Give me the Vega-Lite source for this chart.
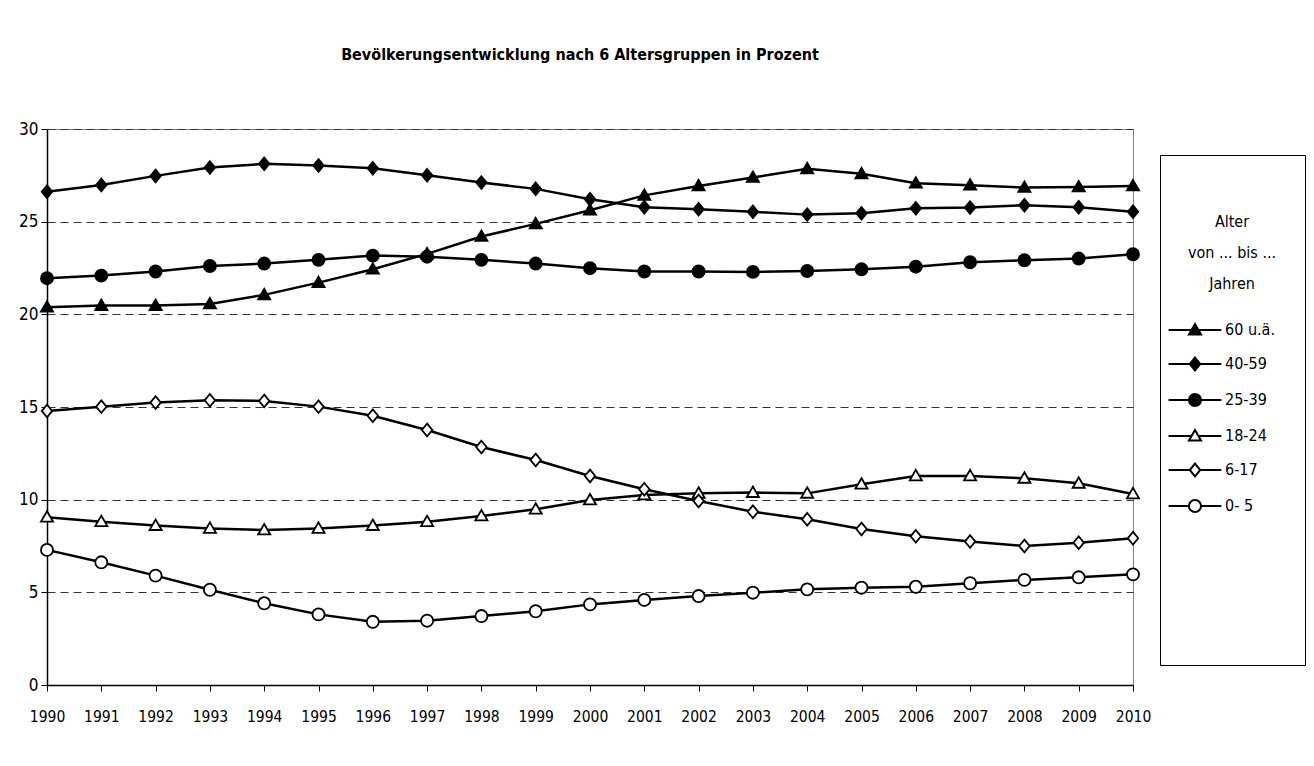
{
  "$schema": "https://vega.github.io/schema/vega-lite/v6.json",
  "width": 1086,
  "height": 556,
  "autosize": {"type": "none"},
  "padding": {"left": 47, "top": 129, "right": 181, "bottom": 81},
  "background": "white",
  "title": {
    "text": "Bevölkerungsentwicklung nach 6 Altersgruppen in Prozent",
    "anchor": "middle",
    "frame": "group",
    "dx": -10,
    "offset": 57,
    "font": "DejaVu Sans Condensed, Liberation Sans, sans-serif",
    "fontSize": 16,
    "fontWeight": "bold",
    "color": "black"
  },
  "config": {
    "font": "DejaVu Sans Condensed, Liberation Sans, sans-serif",
    "view": {"stroke": "#808080", "strokeWidth": 1}
  },
  "data": {
    "values": [
      {"Jahr":"1990","Gruppe":"60 u.ä.","Wert":20.38},{"Jahr":"1991","Gruppe":"60 u.ä.","Wert":20.47},{"Jahr":"1992","Gruppe":"60 u.ä.","Wert":20.47},{"Jahr":"1993","Gruppe":"60 u.ä.","Wert":20.56},{"Jahr":"1994","Gruppe":"60 u.ä.","Wert":21.05},{"Jahr":"1995","Gruppe":"60 u.ä.","Wert":21.71},{"Jahr":"1996","Gruppe":"60 u.ä.","Wert":22.43},{"Jahr":"1997","Gruppe":"60 u.ä.","Wert":23.26},{"Jahr":"1998","Gruppe":"60 u.ä.","Wert":24.2},{"Jahr":"1999","Gruppe":"60 u.ä.","Wert":24.88},{"Jahr":"2000","Gruppe":"60 u.ä.","Wert":25.62},{"Jahr":"2001","Gruppe":"60 u.ä.","Wert":26.42},{"Jahr":"2002","Gruppe":"60 u.ä.","Wert":26.93},{"Jahr":"2003","Gruppe":"60 u.ä.","Wert":27.38},{"Jahr":"2004","Gruppe":"60 u.ä.","Wert":27.85},{"Jahr":"2005","Gruppe":"60 u.ä.","Wert":27.58},{"Jahr":"2006","Gruppe":"60 u.ä.","Wert":27.07},{"Jahr":"2007","Gruppe":"60 u.ä.","Wert":26.97},{"Jahr":"2008","Gruppe":"60 u.ä.","Wert":26.84},{"Jahr":"2009","Gruppe":"60 u.ä.","Wert":26.87},{"Jahr":"2010","Gruppe":"60 u.ä.","Wert":26.93},
      {"Jahr":"1990","Gruppe":"40-59","Wert":26.62},{"Jahr":"1991","Gruppe":"40-59","Wert":26.98},{"Jahr":"1992","Gruppe":"40-59","Wert":27.47},{"Jahr":"1993","Gruppe":"40-59","Wert":27.92},{"Jahr":"1994","Gruppe":"40-59","Wert":28.12},{"Jahr":"1995","Gruppe":"40-59","Wert":28.03},{"Jahr":"1996","Gruppe":"40-59","Wert":27.88},{"Jahr":"1997","Gruppe":"40-59","Wert":27.5},{"Jahr":"1998","Gruppe":"40-59","Wert":27.11},{"Jahr":"1999","Gruppe":"40-59","Wert":26.77},{"Jahr":"2000","Gruppe":"40-59","Wert":26.21},{"Jahr":"2001","Gruppe":"40-59","Wert":25.78},{"Jahr":"2002","Gruppe":"40-59","Wert":25.67},{"Jahr":"2003","Gruppe":"40-59","Wert":25.53},{"Jahr":"2004","Gruppe":"40-59","Wert":25.38},{"Jahr":"2005","Gruppe":"40-59","Wert":25.45},{"Jahr":"2006","Gruppe":"40-59","Wert":25.72},{"Jahr":"2007","Gruppe":"40-59","Wert":25.76},{"Jahr":"2008","Gruppe":"40-59","Wert":25.89},{"Jahr":"2009","Gruppe":"40-59","Wert":25.78},{"Jahr":"2010","Gruppe":"40-59","Wert":25.54},
      {"Jahr":"1990","Gruppe":"25-39","Wert":21.95},{"Jahr":"1991","Gruppe":"25-39","Wert":22.09},{"Jahr":"1992","Gruppe":"25-39","Wert":22.31},{"Jahr":"1993","Gruppe":"25-39","Wert":22.61},{"Jahr":"1994","Gruppe":"25-39","Wert":22.74},{"Jahr":"1995","Gruppe":"25-39","Wert":22.94},{"Jahr":"1996","Gruppe":"25-39","Wert":23.17},{"Jahr":"1997","Gruppe":"25-39","Wert":23.11},{"Jahr":"1998","Gruppe":"25-39","Wert":22.94},{"Jahr":"1999","Gruppe":"25-39","Wert":22.74},{"Jahr":"2000","Gruppe":"25-39","Wert":22.49},{"Jahr":"2001","Gruppe":"25-39","Wert":22.31},{"Jahr":"2002","Gruppe":"25-39","Wert":22.31},{"Jahr":"2003","Gruppe":"25-39","Wert":22.29},{"Jahr":"2004","Gruppe":"25-39","Wert":22.34},{"Jahr":"2005","Gruppe":"25-39","Wert":22.43},{"Jahr":"2006","Gruppe":"25-39","Wert":22.57},{"Jahr":"2007","Gruppe":"25-39","Wert":22.81},{"Jahr":"2008","Gruppe":"25-39","Wert":22.92},{"Jahr":"2009","Gruppe":"25-39","Wert":23.01},{"Jahr":"2010","Gruppe":"25-39","Wert":23.24},
      {"Jahr":"1990","Gruppe":"18-24","Wert":9.05},{"Jahr":"1991","Gruppe":"18-24","Wert":8.81},{"Jahr":"1992","Gruppe":"18-24","Wert":8.6},{"Jahr":"1993","Gruppe":"18-24","Wert":8.45},{"Jahr":"1994","Gruppe":"18-24","Wert":8.36},{"Jahr":"1995","Gruppe":"18-24","Wert":8.45},{"Jahr":"1996","Gruppe":"18-24","Wert":8.6},{"Jahr":"1997","Gruppe":"18-24","Wert":8.81},{"Jahr":"1998","Gruppe":"18-24","Wert":9.12},{"Jahr":"1999","Gruppe":"18-24","Wert":9.48},{"Jahr":"2000","Gruppe":"18-24","Wert":9.98},{"Jahr":"2001","Gruppe":"18-24","Wert":10.25},{"Jahr":"2002","Gruppe":"18-24","Wert":10.34},{"Jahr":"2003","Gruppe":"18-24","Wert":10.38},{"Jahr":"2004","Gruppe":"18-24","Wert":10.34},{"Jahr":"2005","Gruppe":"18-24","Wert":10.83},{"Jahr":"2006","Gruppe":"18-24","Wert":11.28},{"Jahr":"2007","Gruppe":"18-24","Wert":11.28},{"Jahr":"2008","Gruppe":"18-24","Wert":11.15},{"Jahr":"2009","Gruppe":"18-24","Wert":10.88},{"Jahr":"2010","Gruppe":"18-24","Wert":10.31},
      {"Jahr":"1990","Gruppe":"6-17","Wert":14.79},{"Jahr":"1991","Gruppe":"6-17","Wert":15.02},{"Jahr":"1992","Gruppe":"6-17","Wert":15.24},{"Jahr":"1993","Gruppe":"6-17","Wert":15.36},{"Jahr":"1994","Gruppe":"6-17","Wert":15.33},{"Jahr":"1995","Gruppe":"6-17","Wert":15.02},{"Jahr":"1996","Gruppe":"6-17","Wert":14.53},{"Jahr":"1997","Gruppe":"6-17","Wert":13.76},{"Jahr":"1998","Gruppe":"6-17","Wert":12.84},{"Jahr":"1999","Gruppe":"6-17","Wert":12.14},{"Jahr":"2000","Gruppe":"6-17","Wert":11.28},{"Jahr":"2001","Gruppe":"6-17","Wert":10.56},{"Jahr":"2002","Gruppe":"6-17","Wert":9.93},{"Jahr":"2003","Gruppe":"6-17","Wert":9.35},{"Jahr":"2004","Gruppe":"6-17","Wert":8.94},{"Jahr":"2005","Gruppe":"6-17","Wert":8.42},{"Jahr":"2006","Gruppe":"6-17","Wert":8.02},{"Jahr":"2007","Gruppe":"6-17","Wert":7.74},{"Jahr":"2008","Gruppe":"6-17","Wert":7.5},{"Jahr":"2009","Gruppe":"6-17","Wert":7.68},{"Jahr":"2010","Gruppe":"6-17","Wert":7.92},
      {"Jahr":"1990","Gruppe":"0- 5","Wert":7.29},{"Jahr":"1991","Gruppe":"0- 5","Wert":6.62},{"Jahr":"1992","Gruppe":"0- 5","Wert":5.9},{"Jahr":"1993","Gruppe":"0- 5","Wert":5.14},{"Jahr":"1994","Gruppe":"0- 5","Wert":4.41},{"Jahr":"1995","Gruppe":"0- 5","Wert":3.81},{"Jahr":"1996","Gruppe":"0- 5","Wert":3.41},{"Jahr":"1997","Gruppe":"0- 5","Wert":3.47},{"Jahr":"1998","Gruppe":"0- 5","Wert":3.72},{"Jahr":"1999","Gruppe":"0- 5","Wert":3.98},{"Jahr":"2000","Gruppe":"0- 5","Wert":4.35},{"Jahr":"2001","Gruppe":"0- 5","Wert":4.59},{"Jahr":"2002","Gruppe":"0- 5","Wert":4.8},{"Jahr":"2003","Gruppe":"0- 5","Wert":4.98},{"Jahr":"2004","Gruppe":"0- 5","Wert":5.16},{"Jahr":"2005","Gruppe":"0- 5","Wert":5.25},{"Jahr":"2006","Gruppe":"0- 5","Wert":5.3},{"Jahr":"2007","Gruppe":"0- 5","Wert":5.49},{"Jahr":"2008","Gruppe":"0- 5","Wert":5.67},{"Jahr":"2009","Gruppe":"0- 5","Wert":5.81},{"Jahr":"2010","Gruppe":"0- 5","Wert":5.97}
    ]
  },
  "encoding": {
    "x": {
      "field": "Jahr",
      "type": "ordinal",
      "scale": {"type": "point", "padding": 0},
      "axis": {
        "title": null,
        "labelAngle": 0,
        "labelFontSize": 15.5,
        "labelColor": "black",
        "labelPadding": 18,
        "domainColor": "black",
        "domainWidth": 1.5,
        "tickColor": "black",
        "tickSize": 6,
        "tickWidth": 1,
        "grid": false
      }
    },
    "y": {
      "field": "Wert",
      "type": "quantitative",
      "scale": {"domain": [0, 30], "nice": false, "zero": true},
      "axis": {
        "title": null,
        "values": [0, 5, 10, 15, 20, 25, 30],
        "labelFontSize": 17,
        "labelColor": "black",
        "labelPadding": 3,
        "domainColor": "black",
        "domainWidth": 1.5,
        "tickColor": "black",
        "tickSize": 6,
        "grid": true,
        "gridColor": "#333333",
        "gridDash": [8, 5],
        "gridWidth": 1
      }
    }
  },
  "layer": [
    {
      "mark": {"type": "line", "color": "black", "strokeWidth": 2.5},
      "encoding": {"detail": {"field": "Gruppe", "type": "nominal"}}
    },
    {
      "mark": {"type": "point", "filled": true, "stroke": "black", "strokeWidth": 1.8, "size": 121, "opacity": 1},
      "encoding": {
        "shape": {
          "field": "Gruppe",
          "type": "nominal",
          "scale": {
            "domain": ["60 u.ä.", "40-59", "25-39", "18-24", "6-17", "0- 5"],
            "range": [
              "M0,-1.1L1.1,0.8L-1.1,0.8Z",
              "M0,-1.15L0.95,0L0,1.15L-0.95,0Z",
              "M1.1,0A1.1,1.1,0,1,1,-1.1,0A1.1,1.1,0,1,1,1.1,0Z",
              "M0,-1.1L1.1,0.8L-1.1,0.8Z",
              "M0,-1.15L0.95,0L0,1.15L-0.95,0Z",
              "M1.1,0A1.1,1.1,0,1,1,-1.1,0A1.1,1.1,0,1,1,1.1,0Z"
            ]
          },
          "legend": null
        },
        "fill": {
          "field": "Gruppe",
          "type": "nominal",
          "scale": {
            "domain": ["60 u.ä.", "40-59", "25-39", "18-24", "6-17", "0- 5", " ", "  ", "   ", "    "],
            "range": ["black", "black", "black", "white", "white", "white", "white", "white", "white", "white"]
          },
          "legend": {
            "orient": "none",
            "legendX": 1113,
            "legendY": 26,
            "title": ["", "Alter", "von ... bis ...", "Jahren"],
            "titleAnchor": "middle",
            "titleAlign": "center",
            "titleFontSize": 16,
            "titleFontWeight": "normal",
            "titleColor": "black",
            "titleLineHeight": 31,
            "titlePadding": 30,
            "labelFontSize": 16,
            "labelColor": "black",
            "labelOffset": 22,
            "labelExpr": "datum.index == 4 || datum.index == 5 ? '\u00a0\u00a0' + datum.label : datum.label",
            "symbolSize": 121,
            "symbolOffset": -3,
            "symbolStrokeWidth": 2,
            "symbolStrokeColor": "black",
            "rowPadding": 14,
            "padding": 28,
            "strokeColor": "black",
            "fillColor": "white",
            "encoding": {
              "symbols": {
                "stroke": {"value": "black"},
                "strokeWidth": {"value": 2},
                "shape": {"value": {"expr": "datum.index < 6 ? 'M-4.8,0H-' + [0.64,0.95,1.1,0.64,0.95,1.1][datum.index] + 'M' + [0.64,0.95,1.1,0.64,0.95,1.1][datum.index] + ',0H4.8' + scale('shape', datum.value) : 'M0,0'"}}
              }
            }
          }
        }
      }
    }
  ]
}
